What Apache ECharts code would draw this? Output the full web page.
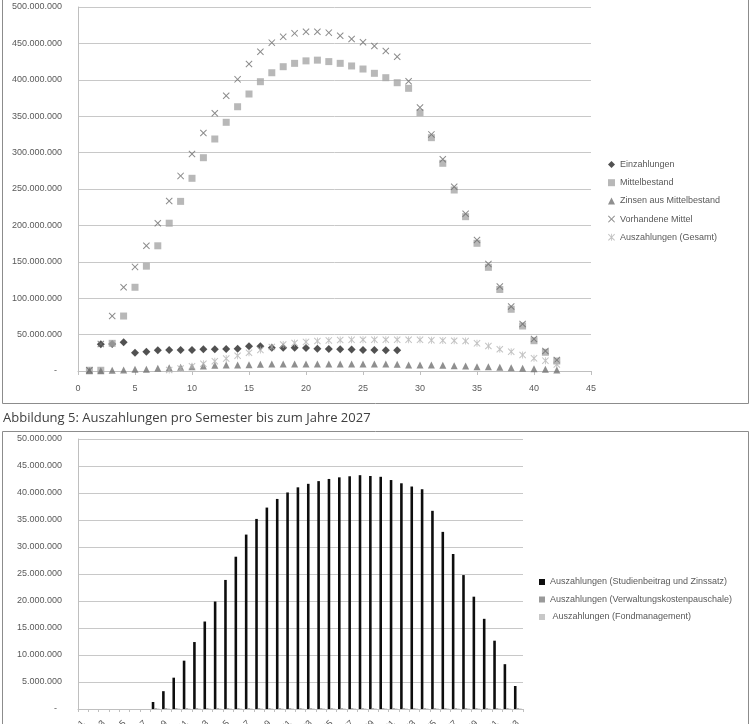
<!DOCTYPE html>
<html>
<head>
<meta charset="utf-8">
<script src="https://cdn.jsdelivr.net/npm/echarts@6/dist/echarts.min.js"></script>
<style>
html,body{margin:0;padding:0;background:#fff;}
#chart{width:756px;height:724px;}
</style>
</head>
<body>
<div id="chart"></div>
<script>
// ---------- Data (values in millions) ----------
const periods = [1,2,3,4,5,6,7,8,9,10,11,12,13,14,15,16,17,18,19,20,21,22,23,24,25,26,27,28,29,30,31,32,33,34,35,36,37,38,39,40,41,42];
const einzahlungen = [null,36.6,37.0,39.4,25.2,26.6,28.4,28.8,28.8,28.8,29.8,29.8,30.2,30.7,33.9,33.9,32.0,32.0,32.0,31.6,30.7,30.2,29.8,29.5,29.0,28.8,28.4,28.4,null,null,null,null,null,null,null,null,null,null,null,null,null,null];
const mittelbestand = [1,1,38,75.5,115,144,172,203,233,264.7,293,318.7,341.6,363,380.5,397.4,409.7,418,422.6,426,427,425,422.6,419,414.8,408.9,402.9,396,388.3,354.8,320.5,285.3,248.6,212,175.4,142.4,112,84.8,61.8,41.6,25.7,13.7];
const zinsen = [0.3,0.3,1.0,1.4,2.3,2.3,3.7,4.6,5.0,6.0,6.9,7.8,8.2,8.2,8.7,9.2,9.5,9.6,9.7,9.7,9.7,9.7,9.6,9.6,9.6,9.5,9.5,9.4,8.2,8.2,8.2,7.8,7.3,6.9,6.0,6.0,5.0,4.6,3.7,3.2,2.3,1.4];
const vorhandeneMittel = [1,37,75.5,115,143,172,203,233.5,268,298,327,354,378,400.6,421.7,438.6,451,459,463.8,466,466,464.8,460.6,456,451.5,446.4,439.6,431.7,398,362,325,290.8,253,216,180,147,116,88.5,64.5,44,27.5,15];
const auszahlungenGesamt = [null,null,null,null,null,null,null,1.3,3.5,6.5,10,13.5,17,21,25,29,33,36.5,38.5,40,41.2,42,42.5,42.8,43,43,43,43,43,42.8,42.4,42,41.6,41.2,38,34.3,29.8,26.6,22,17.4,14.2,9];

const semesters = ['1','2','3','4','5','6','7','8','9','10','11','12','13','14','15','16','17','18','19','20','21','22','23','24','25','26','27','28','29','30','31','32','33','34','35','36','37','38','39','40','41','42','43'];
const studienbeitrag = [0,0,0,0,0,0,0,1.3,3.3,5.8,8.95,12.4,16.2,19.9,23.9,28.2,32.3,35.2,37.3,38.9,40.1,41.05,41.7,42.2,42.6,42.9,43.1,43.3,43.15,43.0,42.4,41.8,41.2,40.7,36.7,32.8,28.7,24.8,20.8,16.7,12.65,8.3,4.26];
const verwaltung = [0,0,0,0,0,0,0,0.15,0.15,0.15,0.15,0.15,0.15,0.15,0.15,0.15,0.15,0.15,0.15,0.15,0.15,0.15,0.15,0.15,0.15,0.15,0.15,0.15,0.15,0.15,0.15,0.15,0.15,0.15,0.15,0.15,0.15,0.15,0.15,0.15,0.15,0.15,0.15];
const fondmanagement = [0,0,0,0,0,0,0,0.1,0.1,0.1,0.1,0.1,0.1,0.1,0.1,0.1,0.1,0.1,0.1,0.1,0.1,0.1,0.1,0.1,0.1,0.1,0.1,0.1,0.1,0.1,0.1,0.1,0.1,0.1,0.1,0.1,0.1,0.1,0.1,0.1,0.1,0.1,0.1];

const topNames = ['Einzahlungen','Mittelbestand','Zinsen aus Mittelbestand','Vorhandene Mittel','Auszahlungen (Gesamt)'];
const bottomNames = ['Auszahlungen (Studienbeitrag und Zinssatz)','Auszahlungen (Verwaltungskostenpauschale)',' Auszahlungen (Fondmanagement)'];
const caption = 'Abbildung 5: Auszahlungen pro Semester bis zum Jahre 2027';

// ---------- Helpers ----------
const M = 1e6;
const FONT = 'Liberation Sans';
const LABEL = '#595959';
const GRID = '#c8c8c8';
const AXIS = '#bfbfbf';
function fmt(v){
  if (v === 0) return '-  ';
  return String(Math.round(v)).replace(/\B(?=(\d{3})+(?!\d))/g, '.');
}
function pts(arr){
  const out = [];
  arr.forEach((v,i)=>{ if (v !== null) out.push([periods[i], v*M]); });
  return out;
}
const X_PATH = 'path://M0,1 L1,0 L5,4 L9,0 L10,1 L6,5 L10,9 L9,10 L5,6 L1,10 L0,9 L4,5 Z';
const STAR_PATH = 'path://M0,1 L1,0 L4.4,3.4 L4.4,0 L5.6,0 L5.6,3.4 L9,0 L10,1 L6,5 L10,9 L9,10 L5.6,6.6 L5.6,10 L4.4,10 L4.4,6.6 L1,10 L0,9 L4,5 Z';

const chart = echarts.init(document.getElementById('chart'), null, {renderer:'canvas'});
const option = {
  animation: false,
  backgroundColor: '#fff',
  textStyle: {fontFamily: FONT},
  grid: [
    {left:78, right:165, top:7, bottom:353, outerBoundsMode:'none', containLabel:false},
    {left:78, right:233, top:439, bottom:15, outerBoundsMode:'none', containLabel:false}
  ],
  xAxis: [
    {type:'value', gridIndex:0, min:0, max:45, interval:5,
     axisLine:{show:true, onZero:false, lineStyle:{color:AXIS}},
     axisTick:{show:true, length:4, lineStyle:{color:AXIS}},
     axisLabel:{color:LABEL, fontSize:9, fontFamily:FONT, margin:13},
     splitLine:{show:false}},
    {type:'category', gridIndex:1, data:semesters,
     axisLine:{show:true, lineStyle:{color:AXIS}},
     axisTick:{show:true, length:3, interval:0, lineStyle:{color:AXIS}},
     axisLabel:{color:LABEL, fontSize:9, fontFamily:FONT, interval:1, rotate:45, margin:13},
     splitLine:{show:false}}
  ],
  yAxis: [
    {type:'value', gridIndex:0, min:0, max:500*M, interval:50*M,
     axisLine:{show:true, lineStyle:{color:AXIS}},
     axisTick:{show:false},
     axisLabel:{color:LABEL, fontSize:9, fontFamily:FONT, margin:16, formatter:fmt},
     splitLine:{show:true, lineStyle:{color:GRID, width:1}}},
    {type:'value', gridIndex:1, min:0, max:50*M, interval:5*M,
     axisLine:{show:true, lineStyle:{color:AXIS}},
     axisTick:{show:false},
     axisLabel:{color:LABEL, fontSize:9, fontFamily:FONT, margin:16, formatter:fmt},
     splitLine:{show:true, lineStyle:{color:GRID, width:1}}}
  ],
  legend: [
    {orient:'vertical', left:603, top:153.5, itemWidth:7, itemHeight:7, itemGap:6.2,
     data:topNames,
     textStyle:{color:LABEL, fontSize:9, fontFamily:FONT, lineHeight:12}},
    {orient:'vertical', left:534, top:571, itemWidth:6, itemHeight:6, itemGap:5.5,
     data:bottomNames, icon:'rect',
     textStyle:{color:LABEL, fontSize:9, fontFamily:FONT, lineHeight:12}}
  ],
  graphic: [
    {type:'rect', shape:{x:2.5, y:-2, width:746, height:405.5}, style:{fill:'none', stroke:'#8c8c8c', lineWidth:1}, silent:true},
    {type:'rect', shape:{x:2.5, y:431.5, width:746, height:330}, style:{fill:'none', stroke:'#8c8c8c', lineWidth:1}, silent:true},
    {type:'text', left:3, top:412, style:{text:caption, fill:'#404040', font:'13px "Open Sans"'}, silent:true}
  ],
  series: [
    {name:topNames[0], type:'scatter', xAxisIndex:0, yAxisIndex:0, symbol:'diamond', symbolSize:[8,8],
     itemStyle:{color:'#262626'}, data:pts(einzahlungen)},
    {name:topNames[1], type:'scatter', xAxisIndex:0, yAxisIndex:0, symbol:'rect', symbolSize:7,
     itemStyle:{color:'#a6a6a6'}, data:pts(mittelbestand)},
    {name:topNames[2], type:'scatter', xAxisIndex:0, yAxisIndex:0, symbol:'triangle', symbolSize:7,
     itemStyle:{color:'#737373'}, data:pts(zinsen)},
    {name:topNames[3], type:'scatter', xAxisIndex:0, yAxisIndex:0, symbol:X_PATH, symbolSize:7,
     itemStyle:{color:'#6e6e6e'}, data:pts(vorhandeneMittel)},
    {name:topNames[4], type:'scatter', xAxisIndex:0, yAxisIndex:0, symbol:STAR_PATH, symbolSize:7,
     itemStyle:{color:'#b3b3b3'}, data:pts(auszahlungenGesamt)},
    {name:bottomNames[0], type:'bar', xAxisIndex:1, yAxisIndex:1, barGap:'0%', barCategoryGap:'25%',
     itemStyle:{color:'#0d0d0d'}, data:studienbeitrag.map(v=>v*M)},
    {name:bottomNames[1], type:'bar', xAxisIndex:1, yAxisIndex:1, barGap:'0%', barCategoryGap:'25%',
     itemStyle:{color:'#9a9a9a'}, data:verwaltung.map(v=>v*M)},
    {name:bottomNames[2], type:'bar', xAxisIndex:1, yAxisIndex:1, barGap:'0%', barCategoryGap:'25%',
     itemStyle:{color:'#c8c8c8'}, data:fondmanagement.map(v=>v*M)}
  ]
};
chart.setOption(option);
</script>
</body>
</html>
